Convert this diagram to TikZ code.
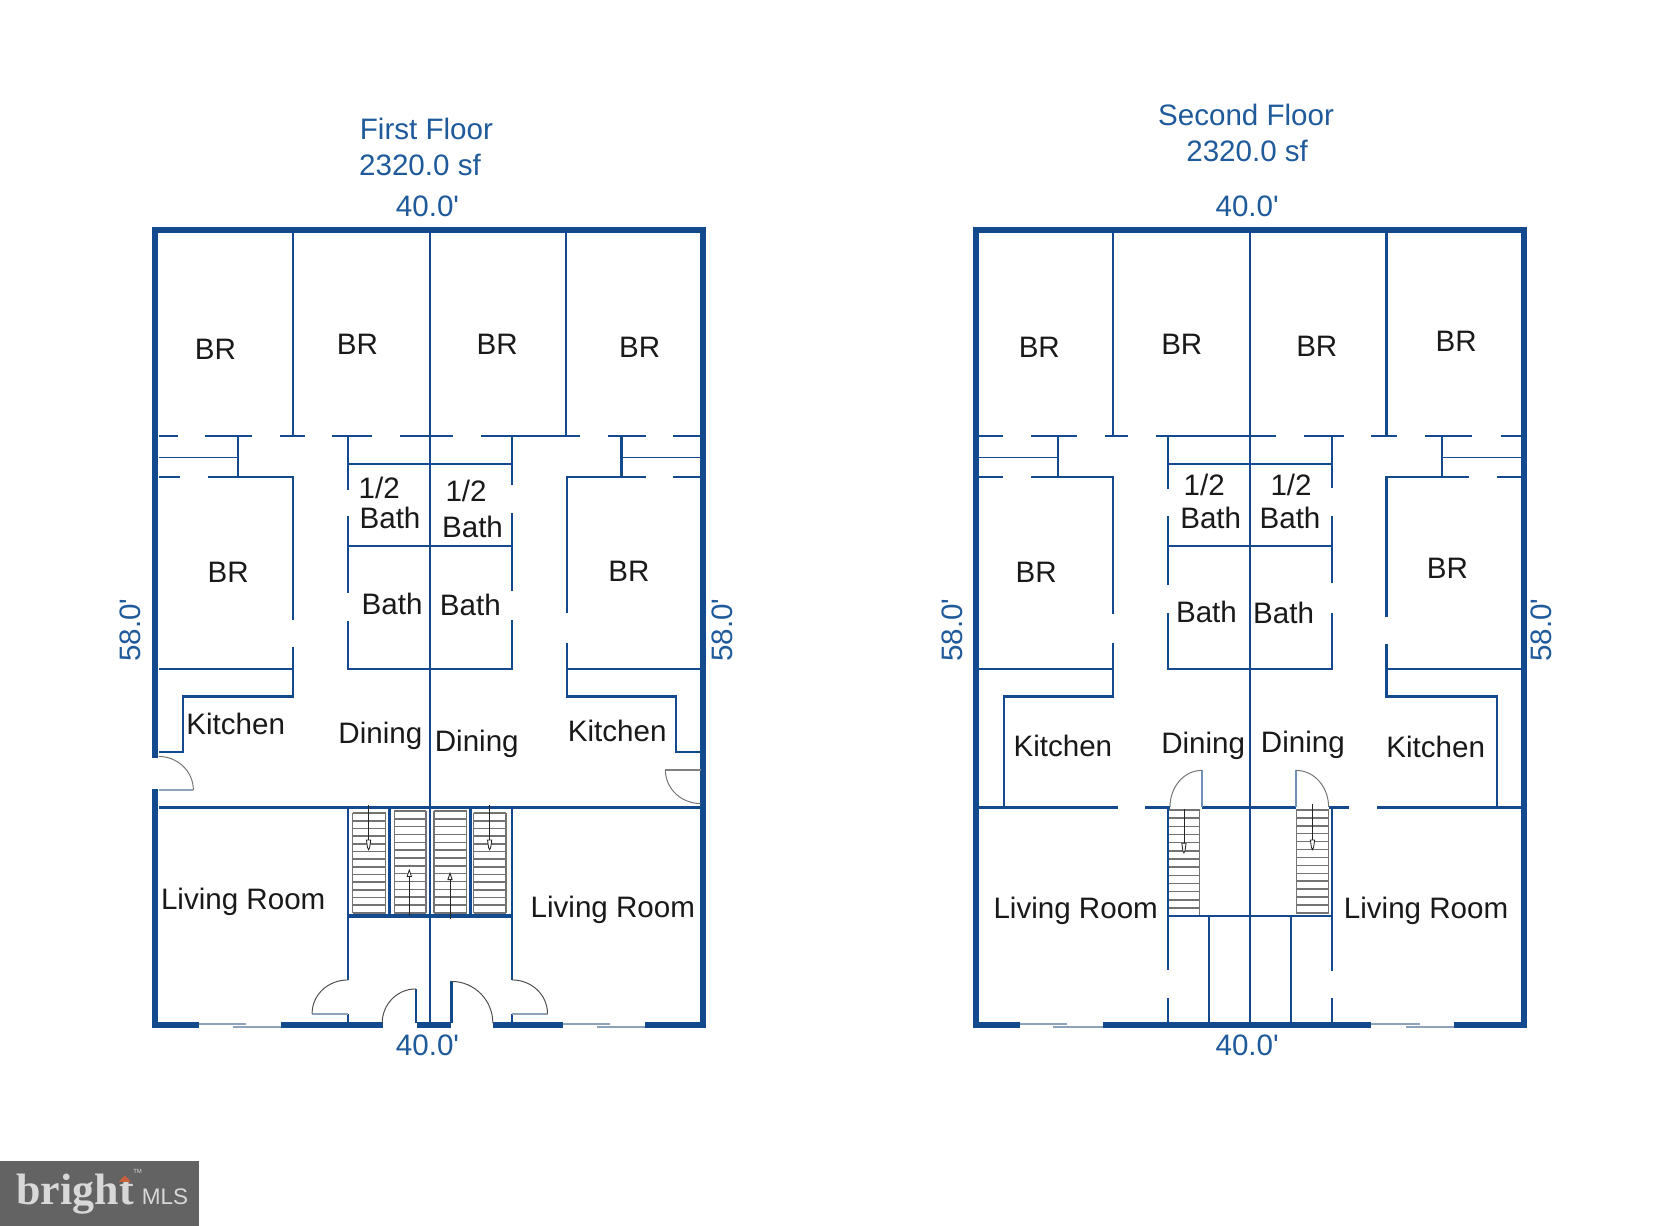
\documentclass[tikz,border=0pt]{standalone}
\usepackage{fontspec}
\setmainfont{Liberation Sans}
\newfontfamily\logoserif{Liberation Serif}
\definecolor{wallblue}{HTML}{134A8E}
\definecolor{dimblue}{HTML}{1F5A9A}
\definecolor{leafgrey}{HTML}{8FA3B8}
\definecolor{logogrey}{HTML}{636363}
\definecolor{logotext}{HTML}{D8D8D8}
\definecolor{logoorange}{HTML}{C8603A}
\tikzset{
  outerwall/.style={draw=wallblue,line width=2.8pt,line cap=rect},
  innerwall/.style={draw=wallblue,line width=1pt},
  heavywall/.style={draw=wallblue,line width=1.6pt},
  thinwall/.style={draw=wallblue,line width=0.7pt},
  doorarc/.style={draw=black!55,line width=0.45pt},
  doorleaf/.style={draw=leafgrey,line width=1pt},
  treadline/.style={draw=black!55,line width=0.7pt},
  stairarrow/.style={draw=black!85,line width=0.4pt},
  windowline/.style={draw=leafgrey,line width=1pt},
  lbl/.style={text=black!90,inner sep=0pt,font=\fontsize{13.8}{15}\selectfont},
  dimlbl/.style={text=dimblue,inner sep=0pt,font=\fontsize{13.8}{15}\selectfont},
}
\newcommand{\ftmark}{\textquotesingle}
\newcommand{\treads}[4]{% x1 x2 ytop ybottom
  \pgfmathsetmacro{\tstep}{(#4-#3)/13}
  \foreach \ti in {0,...,13}{
    \pgfmathsetmacro{\ty}{#3+\ti*\tstep}
    \draw[treadline] (#1,\ty) -- (#2,\ty);
  }
  \draw[treadline] (#1,#3) -- (#1,#4) (#2,#3) -- (#2,#4);
}
\newcommand{\stairdown}[3]{% x ytop ytip
  \draw[stairarrow] (#1,#2) -- (#1,#3-9);
  \draw[stairarrow,fill=white] (#1-2,#3-9) -- (#1+2,#3-9) -- (#1+1,#3-2) -- (#1,#3) -- (#1-1,#3-2) -- cycle;
}
\newcommand{\stairup}[3]{% x ybottom ytip
  \draw[stairarrow] (#1,#2) -- (#1,#3+6);
  \draw[stairarrow,fill=white] (#1-2,#3+6) -- (#1+2,#3+6) -- (#1,#3) -- cycle;
}
\begin{document}
\begin{tikzpicture}[x=0.5pt,y=-0.5pt]
\useasboundingbox (0,0) rectangle (1568,1144);
\fill[white] (0,0) rectangle (1568,1144);

% ---------- FIRST FLOOR ----------
\draw[outerwall] (145,705) -- (145,215) -- (656,215) -- (656,957);
\draw[outerwall] (145,739) -- (145,957);
\draw[outerwall,line cap=butt] (143,957) -- (186,957);
\draw[outerwall,line cap=butt] (262,957) -- (357,957);
\draw[outerwall,line cap=butt] (389,957) -- (421,957);
\draw[outerwall,line cap=butt] (460,957) -- (525,957);
\draw[outerwall,line cap=butt] (602,957) -- (658,957);
\draw[windowline] (186,955.5) -- (230,955.5) (217,958.5) -- (262,958.5)
                  (525,955.5) -- (569,955.5) (557,958.5) -- (602,958.5);
\draw[innerwall] (401,215) -- (401,957);
\draw[innerwall] (273.5,215) -- (273.5,407) (528,215) -- (528,407);
\draw[heavywall,line width=1.1pt]
  (148,407) -- (166,407) (191.5,407) -- (235,407) (261,407) -- (285,407)
  (310,407) -- (347,407) (373,407) -- (422.5,407) (448.5,407) -- (541.5,407)
  (567.5,407) -- (602.5,407) (628,407) -- (655,407);
% left unit
\draw[innerwall] (222,407) -- (222,445.5);
\draw[thinwall] (148,426.8) -- (222,426.8);
\draw[innerwall] (148,445.5) -- (168,445.5) (194,445.5) -- (273.5,445.5) -- (273.5,578.5)
  (273.5,603.5) -- (273.5,650) -- (171,650) -- (171,701.5) -- (148,701.5)
  (148,624.6) -- (273.5,624.6);
% right unit
\draw[innerwall] (580,407) -- (580,445.5);
\draw[thinwall] (580,426.8) -- (654,426.8);
\draw[innerwall] (602.5,445.5) -- (529,445.5) -- (529,572.5) (628,445.5) -- (654,445.5)
  (529,599.7) -- (529,650) -- (631.3,650) -- (631.3,701.5) -- (654,701.5)
  (529,624.6) -- (654,624.6);
% baths
\draw[innerwall] (324.6,407) -- (324.6,457) (324.6,482) -- (324.6,553.7) (324.6,580) -- (324.6,624.6) -- (478,624.6) -- (478,578.6)
  (478,552) -- (478,479) (478,452.6) -- (478,407)
  (324.6,433) -- (478,433) (324.6,509.5) -- (478,509.5);
% doors, kitchens
\draw[doorleaf] (148,737.5) -- (180.5,737.5);
\draw[doorarc] (148,706) to[out=0,in=90] (180.5,737.5);
\draw[doorleaf,draw=black!50,line width=1.1pt] (621,718.5) -- (654,718.5);
\draw[doorarc] (621,718.5) to[out=270,in=180] (654,750);
% stairs
\draw[heavywall] (148,753.5) -- (654,753.5);
\treads{329}{360}{759}{852}
\treads{368}{397.4}{757}{852}
\treads{405}{435.5}{757}{852}
\treads{442}{472.4}{759}{852}
\draw[heavywall,line width=1.2pt] (324.6,753.5) -- (324.6,855) (363.4,753.5) -- (363.4,855) (439,753.5) -- (439,855) (478,753.5) -- (478,855);
\draw[heavywall] (324.6,855) -- (478,855);
\stairdown{344}{751}{793}
\stairup{382}{855}{812}
\stairup{420}{858}{815}
\stairdown{457}{751}{793}
% hall walls and doors
\draw[innerwall] (324.6,855) -- (324.6,914.6) (478,855) -- (478,914.6) (324.6,946) -- (324.6,957) (478,946) -- (478,957);
\draw[doorleaf] (291.3,946) -- (324.6,946) (478,946) -- (511,946);
\draw[doorarc,draw=black!70] (324.6,914.6) to[out=180,in=90] (291.3,946);
\draw[doorarc,draw=black!70] (478,914.6) to[out=0,in=90] (511,946);
\draw[innerwall] (388,923) -- (388,955) (421.4,916) -- (421.4,955);
\draw[doorarc,draw=black!70] (388,923) to[out=180,in=90] (356.7,955);
\draw[doorarc,draw=black!70] (421.4,916) to[out=0,in=90] (460,955);

% ---------- SECOND FLOOR ----------
\draw[outerwall] (911,957) -- (911,215) -- (1422,215) -- (1422,957);
\draw[outerwall,line cap=butt] (909,957) -- (952,957);
\draw[outerwall,line cap=butt] (1029,957) -- (1280,957);
\draw[outerwall,line cap=butt] (1357,957) -- (1424,957);
\draw[windowline] (952,955.5) -- (996,955.5) (983,958.5) -- (1029,958.5)
                  (1280,955.5) -- (1325,955.5) (1312,958.5) -- (1357,958.5);
\draw[innerwall] (1167,215) -- (1167,957);
\draw[innerwall] (1039,215) -- (1039,407) (1294,215) -- (1294,407);
\draw[heavywall,line width=1.1pt]
  (914,407) -- (936,407) (962.5,407) -- (1005,407) (1031,407) -- (1053,407)
  (1079,407) -- (1190.5,407) (1217,407) -- (1254.5,407) (1280,407) -- (1304,407)
  (1330,407) -- (1374,407) (1400.5,407) -- (1421,407);
% left unit
\draw[innerwall] (987.7,407) -- (987.7,445.5);
\draw[thinwall] (913,426.8) -- (987.7,426.8);
\draw[innerwall] (914,445.5) -- (936,445.5) (962.5,445.5) -- (1039,445.5) -- (1039,573.3)
  (1039,599.7) -- (1039,650) -- (936.7,650) -- (936.7,753)
  (913,624.6) -- (1039,624.6);
% right unit
\draw[innerwall] (1345.8,407) -- (1345.8,445.5);
\draw[thinwall] (1345.8,426.8) -- (1420,426.8);
\draw[innerwall] (1371,445.5) -- (1294,445.5) -- (1294,575.5) (1397,445.5) -- (1420,445.5)
  (1294,601) -- (1294,650) -- (1397,650) -- (1397,753)
  (1294,624.6) -- (1420,624.6);
% baths
\draw[innerwall] (1090,407) -- (1090,456.6) (1090,482) -- (1090,546) (1090,572.3) -- (1090,624.6) -- (1243.4,624.6) -- (1243.4,572.3)
  (1243.4,544.4) -- (1243.4,482) (1243.4,455.7) -- (1243.4,407)
  (1090,433) -- (1243.4,433) (1090,509.5) -- (1243.4,509.5);
% dividing wall with openings
\draw[heavywall,line width=1.2pt] (914,753.5) -- (1043.8,753.5) (1069,753.5) -- (1092,753.5)
  (1122,753.5) -- (1209.4,753.5) (1240,753.5) -- (1259,753.5) (1285,753.5) -- (1420,753.5);
\draw[doorleaf,draw=wallblue!60] (1122,719) -- (1122,753) (1209.4,719) -- (1209.4,753);
\draw[doorarc] (1122,719) to[out=180,in=90] (1092,753);
\draw[doorarc] (1209.4,719) to[out=0,in=90] (1240,753);
% stairs
\treads{1090}{1119.6}{756}{855}
\treads{1210}{1240}{756}{852}
\stairdown{1105}{755}{796}
\stairdown{1225}{750}{793}
\draw[heavywall,line width=1.2pt] (1090,855) -- (1243.4,855);
\draw[innerwall] (1090,753.5) -- (1090,905) (1090,931.7) -- (1090,957)
  (1243.4,753.5) -- (1243.4,906) (1243.4,931.7) -- (1243.4,957)
  (1128,855) -- (1128,957) (1205,855) -- (1205,957);

% ---------- TEXT ----------
\node[dimlbl] (ffa) at (398,120) {First Floor};
\node[dimlbl] (ffb) at (392,154) {2320.0 sf};
\node[dimlbl] (fft) at (399,193) {40.0\ftmark};
\node[dimlbl] (ffd) at (399,976) {40.0\ftmark};
\node[dimlbl,rotate=90] (ffl) at (122,588) {58.0\ftmark};
\node[dimlbl,rotate=90] (ffr) at (674,588) {58.0\ftmark};
\node[dimlbl] (sfa) at (1163,107) {Second Floor};
\node[dimlbl] (sfb) at (1164,141) {2320.0 sf};
\node[dimlbl] (sft) at (1164,193) {40.0\ftmark};
\node[dimlbl] (sfd) at (1164,976) {40.0\ftmark};
\node[dimlbl,rotate=90] (sfl) at (889,588) {58.0\ftmark};
\node[dimlbl,rotate=90] (sfr) at (1439,588) {58.0\ftmark};

\node[lbl] (f1) at (201,326) {BR};
\node[lbl] (f2) at (333.5,321.5) {BR};
\node[lbl] (f3) at (464,321.5) {BR};
\node[lbl] (f4) at (597,324) {BR};
\node[lbl] (f5) at (213,534.5) {BR};
\node[lbl] (f6) at (587,533.5) {BR};
\node[lbl] (f7) at (354,455) {1/2};
\node[lbl] (f8) at (364,483) {Bath};
\node[lbl] (f9) at (435,458) {1/2};
\node[lbl] (f10) at (441,492) {Bath};
\node[lbl] (f11) at (366,564) {Bath};
\node[lbl] (f12) at (439,565) {Bath};
\node[lbl] (f13) at (220,676) {Kitchen};
\node[lbl] (f14) at (355,687) {Dining};
\node[lbl] (f15) at (445,694) {Dining};
\node[lbl] (f16) at (576,682) {Kitchen};
\node[lbl] (f17) at (227,842) {Living Room};
\node[lbl] (f18) at (572,849) {Living Room};

\node[lbl] (s1) at (970,324) {BR};
\node[lbl] (s2) at (1103,321.5) {BR};
\node[lbl] (s3) at (1229,323) {BR};
\node[lbl] (s4) at (1359,319) {BR};
\node[lbl] (s5) at (967,534.5) {BR};
\node[lbl] (s6) at (1351,530) {BR};
\node[lbl] (s7) at (1124,453) {1/2};
\node[lbl] (s8) at (1205,453) {1/2};
\node[lbl] (s9) at (1130,483.5) {Bath};
\node[lbl] (s10) at (1204,483) {Bath};
\node[lbl] (s11) at (1126,571) {Bath};
\node[lbl] (s12) at (1198,572) {Bath};
\node[lbl] (s13) at (992,696) {Kitchen};
\node[lbl] (s14) at (1123,696) {Dining};
\node[lbl] (s15) at (1216,695) {Dining};
\node[lbl] (s16) at (1340,697) {Kitchen};
\node[lbl] (s17) at (1004,850) {Living Room};
\node[lbl] (s18) at (1331,850) {Living Room};

% ---------- LOGO ----------
\fill[logogrey] (0,1084) rectangle (185.5,1144);
\node[text=logotext,inner sep=0pt,anchor=base west,font=\logoserif\bfseries\fontsize{20.5}{22}\selectfont] (logoa) at (15,1124) {bright};
\fill[logoorange] (111,1103) -- (116.5,1097) -- (122,1103) -- cycle;
\node[text=logotext,inner sep=0pt,anchor=base west,font=\fontsize{2.8}{3}\selectfont] (logot) at (124,1095) {TM};
\node[text=logotext,inner sep=0pt,anchor=base west,font=\fontsize{10.5}{11}\selectfont] (logob) at (132,1124) {MLS};
\end{tikzpicture}
\end{document}
